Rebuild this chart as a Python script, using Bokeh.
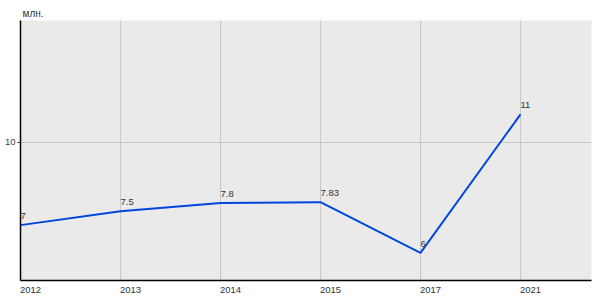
from bokeh.plotting import figure
from bokeh.models import FixedTicker, ColumnDataSource
from bokeh.core.properties import value
from bokeh.embed import file_html
from bokeh.resources import INLINE

years = ["2012", "2013", "2014", "2015", "2017", "2021"]
values = [7, 7.5, 7.8, 7.83, 6, 11]
labels = ["7", "7.5", "7.8", "7.83", "6", "11"]
y_ticks = [10]

xs = list(range(len(years)))
src = ColumnDataSource(dict(x=xs, y=values, t=labels))

FONT = "Liberation Sans"

p = figure(width=600, height=300, output_backend="svg", toolbar_location=None,
           x_range=(0, 5.71), y_range=(5.0, 14.39),
           min_border_left=20, min_border_right=9, min_border_top=20, min_border_bottom=20,
           title="млн.")
p.title.text_font = FONT
p.title.text_font_size = "10px"
p.title.text_font_style = "normal"
p.title.text_color = "#333333"
p.title.align = "left"
p.title.offset = 2
p.title.standoff = 4

p.background_fill_color = "#eaeaea"
p.border_fill_color = "white"
p.outline_line_color = None

p.xaxis.ticker = FixedTicker(ticks=[i + 0.1 for i in xs])
p.xaxis.major_label_overrides = {i + 0.1: y for i, y in zip(xs, years)}
p.xaxis.major_tick_line_color = None
p.xaxis.minor_tick_line_color = None
p.xaxis.axis_line_color = "black"
p.xaxis.axis_line_width = 1.5
p.xaxis.major_label_text_font = FONT
p.xaxis.major_label_text_font_size = "9.5px"
p.xaxis.major_label_text_color = "#333333"
p.xaxis.major_label_standoff = 0
p.xgrid.ticker = FixedTicker(ticks=xs)
p.xgrid.grid_line_color = "#c8c8c8"

p.yaxis.ticker = FixedTicker(ticks=y_ticks)
p.yaxis.major_tick_in = 0
p.yaxis.major_tick_out = 3
p.yaxis.major_tick_line_color = "#333333"
p.yaxis.minor_tick_line_color = None
p.yaxis.axis_line_color = "black"
p.yaxis.axis_line_width = 1.5
p.yaxis.major_label_text_font = FONT
p.yaxis.major_label_text_font_size = "9.5px"
p.yaxis.major_label_text_color = "#444444"
p.yaxis.major_label_standoff = 2
p.yaxis.major_label_orientation = "horizontal"
p.ygrid.grid_line_color = "#c8c8c8"

p.line("x", "y", source=src, line_color="#0046dc", line_width=2)
p.text("x", "y", text="t", source=src, text_font=value(FONT), text_font_size="9.5px",
       text_color="#333333", text_baseline="bottom", text_align="left", y_offset=-6)

open("out.html", "w").write(file_html(p, INLINE))
